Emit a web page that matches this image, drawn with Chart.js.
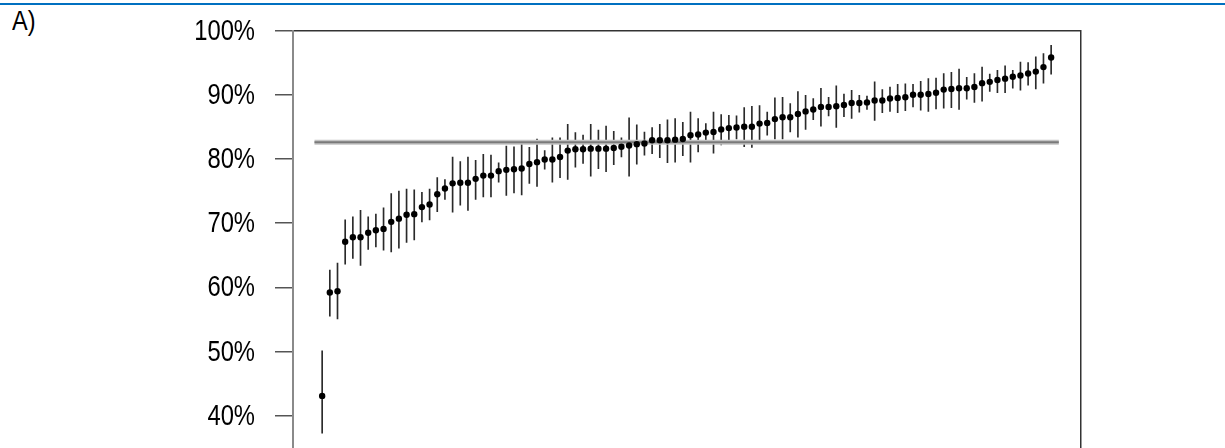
<!DOCTYPE html>
<html>
<head>
<meta charset="utf-8">
<script src="https://cdn.jsdelivr.net/npm/chart.js@4/dist/chart.umd.min.js"></script>
<style>
  html, body { margin: 0; padding: 0; background: #fff; overflow: hidden; }
  #wrap { position: relative; width: 1225px; height: 448px; overflow: hidden; }
  #rule { position: absolute; left: 0; top: 3px; width: 1225px; height: 2px; background: #0070C0; }
  #panel { position: absolute; left: 12px; top: 3px; font-family: "Liberation Sans", Arial, sans-serif; font-size: 28px; color: #000; line-height: 36px; transform: scaleX(0.84); transform-origin: 0 0; }
  canvas { position: absolute; left: 0; top: 0; }
</style>
</head>
<body>
<div id="wrap">
  <div id="rule"></div>
  <div id="panel">A)</div>
  <canvas id="c" width="1225" height="560"></canvas>
</div>
<script>
// Units ranked by estimated rate, with 95% intervals and the overall rate
const rank = Array.from({length: 96}, (_, i) => i + 1);
const rate = [
  43.1, 59.2, 59.4, 67.1, 67.8, 67.8, 68.5, 68.9, 69.1, 70.2,
  70.7, 71.3, 71.4, 72.5, 72.9, 74.5, 75.4, 76.2, 76.3, 76.3,
  76.9, 77.4, 77.4, 78.1, 78.3, 78.4, 78.5, 79.2, 79.5, 79.9,
  79.9, 80.3, 81.3, 81.5, 81.5, 81.6, 81.6, 81.6, 81.7, 81.9,
  82.1, 82.3, 82.4, 82.9, 82.9, 82.9, 83.0, 83.1, 83.7, 83.8,
  84.1, 84.2, 84.6, 84.8, 84.9, 85.0, 85.0, 85.5, 85.6, 86.2,
  86.5, 86.5, 87.0, 87.4, 87.7, 88.1, 88.1, 88.2, 88.4, 88.7,
  88.7, 88.8, 89.1, 89.1, 89.4, 89.5, 89.6, 90.0, 90.0, 90.1,
  90.3, 90.8, 90.9, 91.0, 91.0, 91.2, 91.8, 92.0, 92.3, 92.5,
  92.8, 93.0, 93.3, 93.6, 94.3, 95.8
];
const upper = [
  50.1, 62.7, 63.8, 70.5, 71.0, 72.0, 71.0, 71.4, 72.4, 74.6,
  75.0, 75.3, 75.2, 74.8, 75.3, 77.1, 76.8, 80.3, 79.6, 80.3,
  79.8, 80.7, 80.6, 79.4, 82.0, 81.9, 82.3, 81.8, 83.1, 81.3,
  83.3, 83.3, 85.4, 84.1, 83.7, 85.4, 84.5, 85.1, 84.3, 83.3,
  86.4, 85.3, 84.2, 84.9, 85.4, 86.1, 86.3, 85.7, 87.3, 86.3,
  85.5, 87.3, 86.9, 86.8, 86.7, 88.0, 88.2, 88.3, 87.3, 89.5,
  89.6, 88.6, 90.5, 89.9, 89.4, 91.0, 89.6, 91.4, 90.1, 90.7,
  89.9, 89.8, 92.0, 90.8, 91.2, 91.6, 91.7, 91.6, 92.1, 92.5,
  92.6, 93.3, 93.5, 94.0, 92.7, 93.3, 94.3, 93.2, 93.8, 94.5,
  93.8, 95.1, 95.0, 95.9, 96.4, 97.7
];
const lower = [
  37.3, 55.5, 55.1, 63.6, 64.5, 63.4, 65.9, 66.3, 65.8, 65.5,
  66.1, 67.0, 67.4, 70.2, 70.5, 71.8, 73.7, 71.7, 72.8, 72.0,
  73.7, 74.1, 74.1, 76.4, 74.3, 74.7, 74.4, 76.2, 75.7, 78.4,
  76.4, 77.1, 76.8, 78.7, 79.3, 77.3, 78.5, 78.0, 79.1, 80.3,
  77.3, 79.2, 80.6, 80.8, 80.2, 79.4, 79.5, 80.5, 79.5, 81.1,
  82.6, 80.9, 82.2, 82.7, 83.1, 81.9, 81.8, 82.4, 83.7, 83.1,
  83.1, 84.2, 83.4, 84.6, 86.1, 85.1, 86.7, 84.9, 86.6, 86.3,
  87.3, 87.7, 86.0, 87.2, 87.4, 87.2, 87.5, 88.1, 87.6, 87.4,
  87.8, 87.9, 88.0, 87.7, 89.3, 88.8, 89.0, 90.5, 90.3, 90.3,
  91.0, 90.7, 91.5, 90.9, 91.8, 93.2
];
const overallRate = 82.6;
const refSpan = [0, 97];
const yTicks = [40, 50, 60, 70, 80, 90, 100];

const LABEL_FONT = "29px 'Liberation Sans', Arial, sans-serif";
const LABEL_SQUEEZE = 0.82;   // condensed look for the axis labels
const LABEL_GAP = 38;         // from the axis line to the right edge of a label

const fixWidth = w => scale => { scale.width = w; };
const fixHeight = h => scale => { scale.height = h; };

// Percent labels on the y axis, drawn condensed at each tick position
const condensedYLabels = {
  id: 'condensedYLabels',
  afterDraw(chart) {
    const y = chart.scales.y;
    const ctx = chart.ctx;
    ctx.save();
    ctx.font = LABEL_FONT;
    ctx.fillStyle = '#000';
    ctx.textAlign = 'right';
    ctx.textBaseline = 'middle';
    y.ticks.forEach(t => {
      const py = y.getPixelForValue(t.value);
      ctx.save();
      ctx.translate(y.right - LABEL_GAP, py + 1);
      ctx.scale(LABEL_SQUEEZE, 1);
      ctx.fillText(t.value + '%', 0, 0);
      ctx.restore();
    });
    ctx.restore();
  }
};

new Chart(document.getElementById('c'), {
  type: 'scatter',
  data: {
    datasets: [
      {
        type: 'bar',
        data: rank.map((r, i) => ({ x: r, y: [lower[i], upper[i]] })),
        backgroundColor: '#2a2a2a',
        borderWidth: 0,
        barThickness: 1,
        grouped: false,
        order: 4
      },
      {
        type: 'line',
        data: refSpan.map(x => ({ x, y: overallRate })),
        borderColor: '#c4c4c4',
        borderWidth: 5,
        pointRadius: 0,
        order: 3
      },
      {
        type: 'line',
        data: refSpan.map(x => ({ x, y: overallRate })),
        borderColor: '#7a7a7a',
        borderWidth: 2,
        pointRadius: 0,
        order: 2
      },
      {
        type: 'scatter',
        data: rank.map((r, i) => ({ x: r, y: rate[i] })),
        backgroundColor: '#000',
        borderWidth: 0,
        pointRadius: 3.2,
        order: 0
      }
    ]
  },
  options: {
    responsive: false,
    animation: false,
    devicePixelRatio: 1,
    events: [],
    layout: { autoPadding: false, padding: { left: 0, top: 30.5, right: 144.7, bottom: 80 } },
    plugins: { legend: { display: false }, tooltip: { enabled: false } },
    scales: {
      x: {
        type: 'linear', position: 'bottom', min: -2.8, max: 99.8, offset: false,
        grid: { display: false }, ticks: { display: false },
        border: { display: true, color: '#333', width: 1.5 },
        afterFit: fixHeight(0)
      },
      x2: {
        type: 'linear', position: 'top', min: -2.8, max: 99.8, offset: false,
        grid: { display: false }, ticks: { display: false },
        border: { display: true, color: '#333', width: 1.5 },
        afterFit: fixHeight(0)
      },
      y: {
        type: 'linear', position: 'left', min: 30, max: 100,
        afterBuildTicks: scale => { scale.ticks = yTicks.map(v => ({ value: v })); },
        ticks: { display: false },
        grid: { drawOnChartArea: false, drawTicks: true, tickLength: 18, color: '#555', lineWidth: 1.5 },
        border: { display: true, color: '#8a8a8a', width: 2 },
        afterFit: fixWidth(293)
      },
      y2: {
        type: 'linear', position: 'right', min: 30, max: 100,
        grid: { display: false }, ticks: { display: false },
        border: { display: true, color: '#333', width: 1.5 },
        afterFit: fixWidth(0)
      }
    }
  },
  plugins: [condensedYLabels]
});
</script>
</body>
</html>
